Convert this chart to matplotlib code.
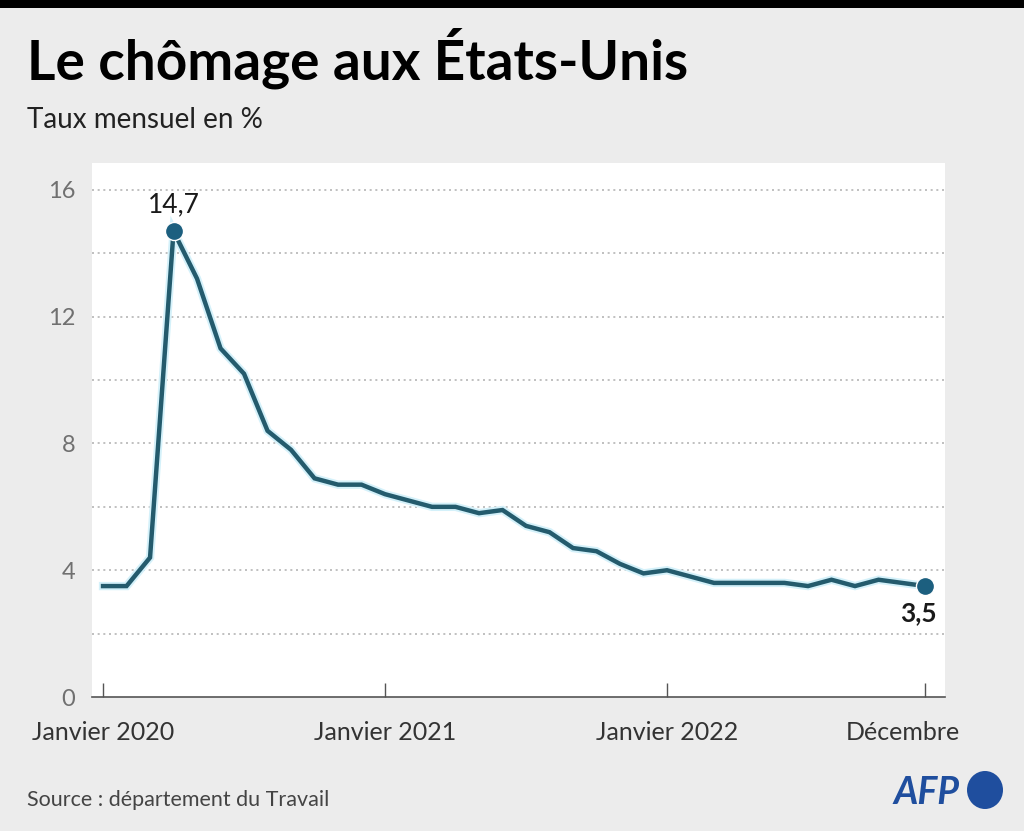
import matplotlib
matplotlib.use("Agg")
import matplotlib.pyplot as plt
import matplotlib.patheffects as pe
import matplotlib.transforms as mtransforms
from matplotlib.patches import Rectangle, Ellipse

months = list(range(36))
rates = [3.5, 3.5, 4.4, 14.7, 13.2, 11.0, 10.2, 8.4, 7.8, 6.9, 6.7, 6.7,
         6.4, 6.2, 6.0, 6.0, 5.8, 5.9, 5.4, 5.2, 4.7, 4.6, 4.2, 3.9,
         4.0, 3.8, 3.6, 3.6, 3.6, 3.6, 3.5, 3.7, 3.5, 3.7, 3.6, 3.5]
xtick_pos = [0, 12, 24, 35]
xtick_labels = ["Janvier 2020", "Janvier 2021", "Janvier 2022", "Décembre"]
ytick_pos = [0, 4, 8, 12, 16]
ytick_labels = ["0", "4", "8", "12", "16"]
peak_idx, peak_label = 3, "14,7"
last_idx, last_label = 35, "3,5"

FONT = "Lato"
plt.rcParams['font.family'] = [FONT, 'DejaVu Sans']

fig = plt.figure(figsize=(10.24, 8.31), dpi=100)
fig.patch.set_facecolor("#ececec")

# top black bar
fig.patches.append(Rectangle((0, 1 - 8/831), 1, 8/831, transform=fig.transFigure,
                             facecolor="black", edgecolor="none"))

ax = fig.add_axes([92/1024, 1 - 697/831, (945-92)/1024, (697-163)/831])
ax.set_facecolor("white")
ax.set_xlim(-0.47, 35.83)
ax.set_ylim(0, 16.85)

for g in range(2, 17, 2):
    ax.axhline(g, color="#b5b5b5", lw=1.2, ls=(0, (1.2, 2.2)), zorder=1)

ax.plot(months, rates, color="#245b6d", lw=3.2, solid_joinstyle="miter", zorder=3,
        path_effects=[pe.Stroke(linewidth=6, foreground="#d4f1fa"), pe.Normal()])
ax.scatter([months[peak_idx], months[last_idx]], [rates[peak_idx], rates[last_idx]],
           s=170, color="#1c5f7f", zorder=4, edgecolors="white", linewidths=1)

ax.annotate(peak_label, (months[peak_idx], rates[peak_idx]), xytext=(0, 10),
            textcoords="offset points", ha="center", va="bottom",
            fontsize=19, color="#1a1a1a")
ax.annotate(last_label, (months[last_idx], rates[last_idx]), xytext=(-5, -11),
            textcoords="offset points", ha="center", va="top",
            fontsize=19, fontweight="bold", color="#1a1a1a")

for s in ["top", "right", "left"]:
    ax.spines[s].set_visible(False)
ax.spines["bottom"].set_color("#555555")
ax.spines["bottom"].set_linewidth(1.2)

ax.set_xticks(xtick_pos)
ax.set_xticklabels(xtick_labels)
ax.tick_params(axis="x", direction="in", length=10, width=1, color="#555555",
               labelsize=18, labelcolor="#333333", pad=17)
ax.set_yticks(ytick_pos)
ax.set_yticklabels(ytick_labels)
ax.tick_params(axis="y", length=0, labelsize=17, labelcolor="#707070", pad=12)

last_lbl = ax.get_xticklabels()[-1]
last_lbl.set_transform(last_lbl.get_transform() +
                       mtransforms.ScaledTranslation(-0.23, 0, fig.dpi_scale_trans))

fig.text(27/1024, 1 - 58/831, "Le chômage aux États-Unis", fontsize=39.5,
         fontweight="bold", color="black", va="center", ha="left")
fig.text(27/1024, 1 - 120/831, "Taux mensuel en %", fontsize=20,
         color="#222222", va="center", ha="left")
fig.text(27/1024, 1 - 800/831, "Source : département du Travail", fontsize=15.5,
         color="#444444", va="center", ha="left")
fig.text(960/1024, 1 - 792/831, "AFP", fontsize=27, fontweight="bold",
         fontstyle="italic", color="#1f4e9e", va="center", ha="right")
fig.patches.append(Ellipse((985/1024, 1 - 790/831), 36/1024, 38/831,
                           transform=fig.transFigure, facecolor="#1f4e9e",
                           edgecolor="none"))

fig.savefig("out.png", dpi=100, facecolor=fig.get_facecolor())
